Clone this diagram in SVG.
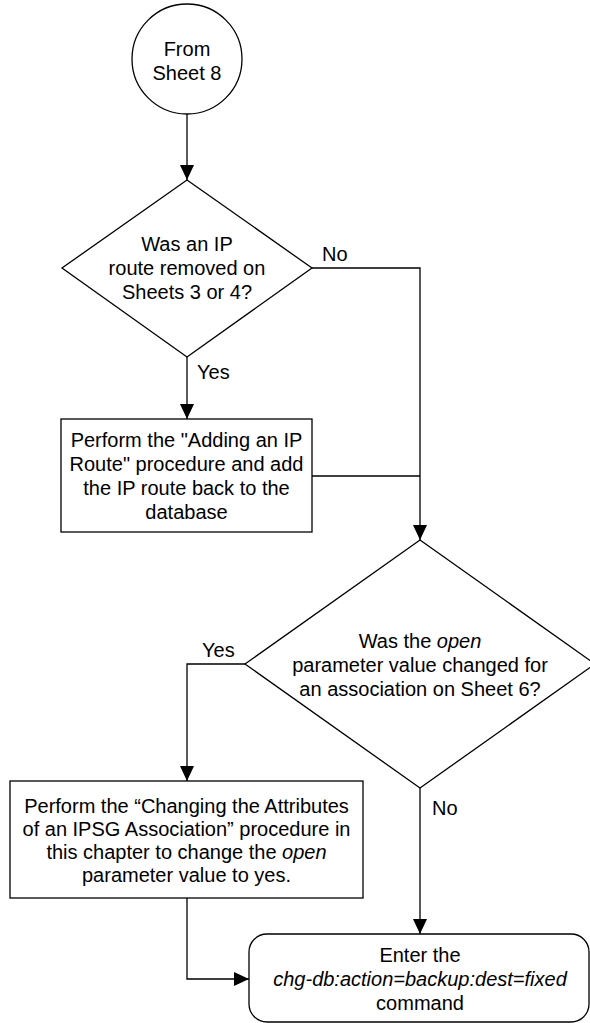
<svg xmlns="http://www.w3.org/2000/svg" width="590" height="1023" viewBox="0 0 590 1023">
<style>
.s{fill:#fff;stroke:#000;stroke-width:1.3}
.c{fill:none;stroke:#000;stroke-width:1.3}
text{font-family:"Liberation Sans",Arial,sans-serif;font-size:20px;fill:#000}
.m{text-anchor:middle}
.i{font-style:italic}
</style>
<defs>
<marker id="ah" markerUnits="userSpaceOnUse" markerWidth="16" markerHeight="14" refX="15" refY="7" orient="auto">
<path d="M0,0 L15,7 L0,14 Z" fill="#000"/>
</marker>
</defs>
<rect width="590" height="1023" fill="#fff"/>
<g id="connectors">
<path class="c" d="M187,114 L187,180" marker-end="url(#ah)"/>
<path class="c" d="M312,268 L420,268 L420,540" marker-end="url(#ah)"/>
<path class="c" d="M187,357 L187,419" marker-end="url(#ah)"/>
<path class="c" d="M312,476 L420,476"/>
<path class="c" d="M245,664 L187,664 L187,781" marker-end="url(#ah)"/>
<path class="c" d="M420,788 L420,934" marker-end="url(#ah)"/>
<path class="c" d="M187,898 L187,979 L249,979" marker-end="url(#ah)"/>
<text x="322" y="261">No</text>
<text x="197" y="379">Yes</text>
<text x="202" y="657">Yes</text>
<text x="432" y="815">No</text>
</g>
<g id="start">
<circle class="s" cx="187" cy="59" r="55"/>
<text class="m" x="187" y="56">From</text>
<text class="m" x="187" y="80">Sheet 8</text>
</g>
<g id="decision1">
<polygon class="s" points="187,180 312,268 187,357 62,268"/>
<text class="m" x="187" y="251">Was an IP</text>
<text class="m" x="187" y="275">route removed on</text>
<text class="m" x="187" y="299">Sheets 3 or 4?</text>
</g>
<g id="box1">
<rect class="s" x="61" y="419" width="251" height="113"/>
<text class="m" x="186.5" y="447">Perform the "Adding an IP</text>
<text class="m" x="186.5" y="471">Route" procedure and add</text>
<text class="m" x="186.5" y="495">the IP route back to the</text>
<text class="m" x="186.5" y="519">database</text>
</g>
<g id="decision2">
<polygon class="s" points="420,540 595,664 420,788 245,664"/>
<text class="m" x="420" y="648">Was the <tspan class="i">open</tspan></text>
<text class="m" x="420" y="672">parameter value changed for</text>
<text class="m" x="420" y="696">an association on Sheet 6?</text>
</g>
<g id="box2">
<rect class="s" x="10" y="781" width="353" height="117"/>
<text class="m" x="186.5" y="813">Perform the “Changing the Attributes</text>
<text class="m" x="186.5" y="836">of an IPSG Association” procedure in</text>
<text class="m" x="186.5" y="859">this chapter to change the <tspan class="i">open</tspan></text>
<text class="m" x="186.5" y="882">parameter value to yes.</text>
</g>
<g id="end">
<rect class="s" x="249" y="934" width="340" height="88" rx="18" ry="18"/>
<text class="m" x="420" y="962">Enter the</text>
<text class="m i" x="420" y="986">chg-db:action=backup:dest=fixed</text>
<text class="m" x="420" y="1010">command</text>
</g>
</svg>
